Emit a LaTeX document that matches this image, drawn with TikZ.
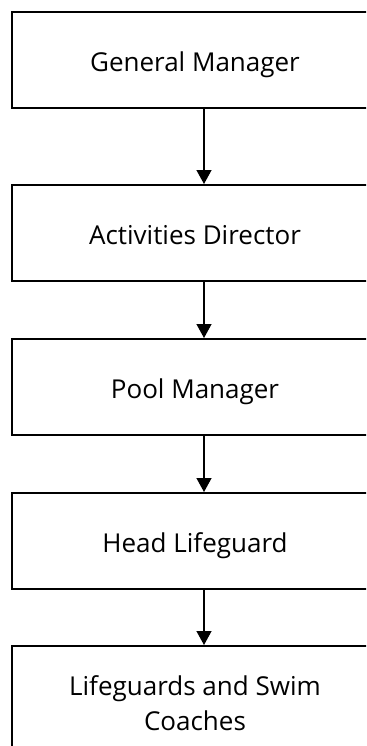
\documentclass[tikz,border=0pt]{standalone}
\usepackage{fontspec}
\setmainfont{Open Sans}
\usetikzlibrary{arrows.meta}
\begin{document}
\begin{tikzpicture}[x=1bp, y=-1bp]
% Org chart, boxes run off the right and bottom edge of the page
\def\boxw{366bp}
\def\boxh{96bp}
\providecommand{\orgLineWidth}{1.6bp}
\providecommand{\orgArrowWidth}{1.3bp}
\providecommand{\orgShift}{9bp}
\tikzset{
  orgbox/.style={draw=black, line width=\orgLineWidth, fill=white, anchor=north,
    minimum width=\boxw, minimum height=\boxh, inner sep=0pt, align=center,
    text height=24bp, text depth=0pt,
    font=\fontsize{26bp}{35bp}\selectfont},
  orglink/.style={draw=black, line width=\orgArrowWidth,
    -{Triangle[width=15bp,length=14bp]}}
}
% Page frame, everything outside is cut off
\path[use as bounding box, clip] (0,0) rectangle (366,746);
% Boxes
\node[orgbox] (gm) at (195,11) {General Manager};
\node[orgbox] (ad) at (195,184) {Activities Director};
\node[orgbox] (pm) at (195,338) {Pool Manager};
\node[orgbox] (hl) at (195,492) {Head Lifeguard};
\node[orgbox, minimum height=0pt, inner ysep=30bp, text height={}, text depth=12bp] (lg) at (195,645)
  {Lifeguards and Swim\\Coaches};
% Links
\draw[orglink] ([xshift=\orgShift]gm.south) -- ([xshift=\orgShift]ad.north);
\draw[orglink] ([xshift=\orgShift]ad.south) -- ([xshift=\orgShift]pm.north);
\draw[orglink] ([xshift=\orgShift]pm.south) -- ([xshift=\orgShift]hl.north);
\draw[orglink] ([xshift=\orgShift]hl.south) -- ([xshift=\orgShift]lg.north);
\end{tikzpicture}
\end{document}
